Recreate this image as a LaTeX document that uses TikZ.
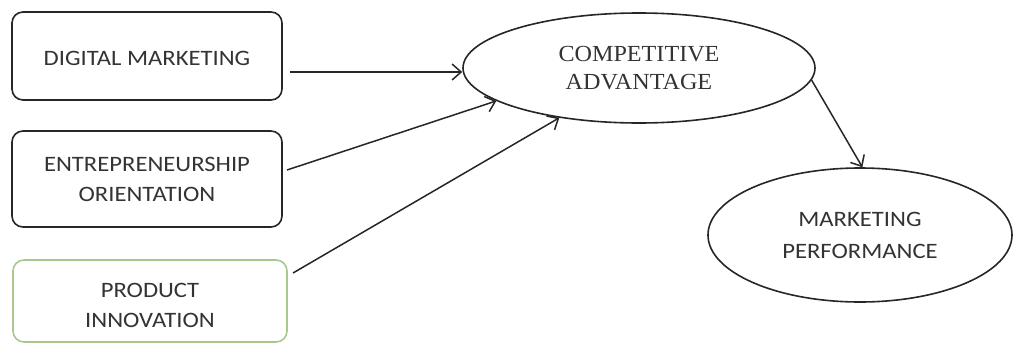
\documentclass[tikz,border=0pt]{standalone}
\usepackage{fontspec}
\setmainfont{Carlito}[FakeStretch=1.12]
\newfontfamily\caserif{Liberation Serif}[FakeStretch=1.05]
\usetikzlibrary{shapes.geometric,arrows.meta}
\definecolor{linec}{HTML}{262626}
\definecolor{textc}{HTML}{333333}
\definecolor{greenb}{HTML}{A8C890}
\tikzset{
  box/.style={draw=linec, line width=1.6pt, rounded corners=11pt, align=center,
    text=textc, font=\fontsize{22}{30}\selectfont, inner sep=0pt},
  oval/.style={draw=linec, line width=1.6pt, ellipse, align=center, text=textc, inner sep=0pt},
  arr/.style={draw=linec, line width=1.5pt, -{Straight Barb[length=9pt,width=16pt,line width=1.5pt]}}
}
\begin{document}
\begin{tikzpicture}[x=1pt,y=-1pt]
\useasboundingbox (0,0) rectangle (1013,343);
\node[box, minimum width=270pt, minimum height=88pt] (dm) at (147,56) {\raisebox{-2pt}[\height][\depth]{DIGITAL MARKETING}};
\node[box, minimum width=270pt, minimum height=96pt] (eo) at (147,179) {ENTREPRENEURSHIP\\ORIENTATION};
\node[box, draw=greenb, minimum width=274pt, minimum height=82pt] (pi) at (150,301) {\raisebox{-5pt}[\height][\depth]{\begin{tabular}{@{}c@{}}PRODUCT\\INNOVATION\end{tabular}}};
\node[oval, minimum width=352pt, minimum height=110pt, font=\caserif\fontsize{23}{28}\selectfont] (ca) at (639,68) {COMPETITIVE\\ADVANTAGE};
\node[oval, minimum width=304pt, minimum height=134pt, font=\fontsize{22}{32}\selectfont] (mp) at (860,235) {MARKETING\\PERFORMANCE};
\coordinate (s1) at (290,72);
\coordinate (s2) at (287,170);
\coordinate (s3) at (293,273);
\draw[arr] (s1) -- (s1 -| ca.west);
\draw[arr] (s2) -- (ca.193);
\draw[arr] (s3) -- (ca.212);
\draw[arr] (ca.-4) -- (mp.88);
\end{tikzpicture}
\end{document}
